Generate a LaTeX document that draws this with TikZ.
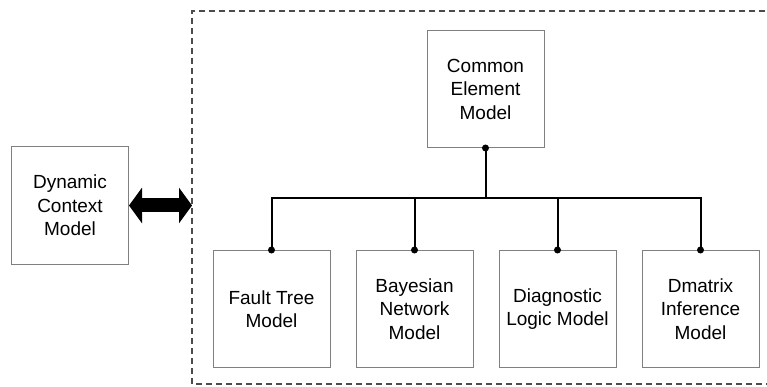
\documentclass[tikz,border=0pt]{standalone}
\usepackage{fontspec}
\setmainfont{Liberation Sans}
\usetikzlibrary{arrows.meta}
\begin{document}
\begin{tikzpicture}[x=1pt,y=-1pt,
  model/.style={draw=black!50, line width=1pt, fill=white,
    minimum width=117pt, minimum height=117pt, inner sep=2pt,
    align=center, font=\fontsize{19}{23.5}\selectfont},
  wire/.style={line width=2pt, black},
  joint/.style={circle, fill=black, inner sep=0pt, minimum size=7pt},
  frame/.style={dashed, dash pattern=on 6pt off 4pt, line width=1.8pt, black!70}
]
\useasboundingbox (0,0) rectangle (767,387);

% dashed frame, open on the right
\coordinate (ftr) at (775,11);
\coordinate (ftl) at (192,11);
\coordinate (fbl) at (192,384);
\coordinate (fbr) at (775,384);
\draw[frame] (ftr) -- (ftl) -- (fbl) -- (fbr);

% models
\node[model] (dyn) at (70,205.5) {Dynamic\\Context\\Model};
\node[model] (cem) at (485.5,89) {Common\\Element\\Model};
\node[model] (ft)  at (271.5,309) {Fault Tree\\Model};
\node[model] (bn)  at (414.5,309) {Bayesian\\Network\\Model};
\node[model] (dl)  at (557.5,309) {Diagnostic\\Logic Model};
\node[model] (dm)  at (700.5,309) {Dmatrix\\Inference\\Model};

% tree connectors
\coordinate (bus) at (485.5,198);
\draw[wire] (cem.south) -- (bus);
\draw[wire] (ft.north) |- (bus) -| (dm.north);
\draw[wire] (bn.north) -- (bn.north |- bus);
\draw[wire] (dl.north) -- (dl.north |- bus);
\foreach \n in {cem.south, ft.north, bn.north, dl.north, dm.north}
  \node[joint] at (\n) {};

% two-way link to the frame
\coordinate (fw) at (192,205.5);
\draw[line width=14pt,
  {Triangle[length=13pt 0,width=35pt 0]}-{Triangle[length=13pt 0,width=35pt 0]}]
  (dyn.east) -- (fw);
\end{tikzpicture}
\end{document}
